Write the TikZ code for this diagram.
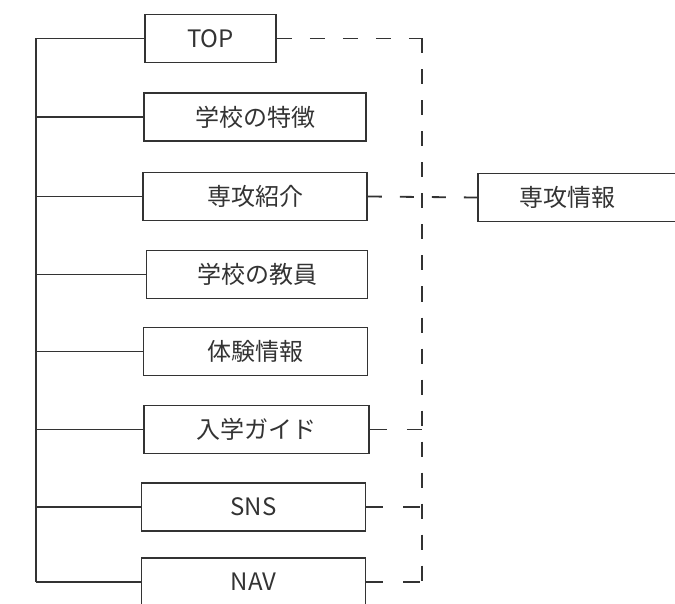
\documentclass[tikz,border=0pt]{standalone}
\usepackage{fontspec}
\newfontfamily\jpfont{Noto Sans CJK JP}
\usepackage{tikz}
\usetikzlibrary{positioning}
\definecolor{line-gray}{RGB}{51,51,51}
\tikzset{
    pagebox/.style={draw=line-gray, line width=1.8pt, text=line-gray,
        minimum width=224pt, minimum height=48pt, inner sep=0pt,
        font=\jpfont\fontsize{24}{28}\selectfont},
    tree/.style={line-gray, line width=1.8pt},
    link/.style={line-gray, line width=1.8pt, dash pattern=#1},
    link/.default={on 15pt off 16pt}
}

\begin{document}
\begin{tikzpicture}[x=1pt,y=-1pt]
    \useasboundingbox (0,0) rectangle (675,604);

    % site pages
    \node[pagebox, minimum width=131pt] (top) at (210.5,38.5) {TOP};
    \node[pagebox, minimum width=222pt] (feature) at (255,117) {学校の特徴};
    \node[pagebox] (major) at (255,196.5) {専攻紹介};
    \node[pagebox, minimum width=221pt] (staff) at (257,274.5) {学校の教員};
    \node[pagebox] (trial) at (255.5,351.5) {体験情報};
    \node[pagebox, minimum width=225pt] (guide) at (256.5,429.5) {入学ガイド};
    \node[pagebox] (sns) at (253.5,507) {SNS};
    \node[pagebox] (nav) at (253.5,582) {NAV};

    % sub page
    \node[pagebox, minimum width=230pt, anchor=west] (majorinfo) at (477,197.5) {\hspace*{-50pt}専攻情報};

    \coordinate (trunk) at (36,0);
    \coordinate (dashline) at (422,0);

    % solid tree on the left
    \draw[tree] (top.west -| trunk) -- (nav.west -| trunk);
    \foreach \page in {top,feature,major,staff,trial,guide,sns,nav}
        \draw[tree] (\page.west -| trunk) -- (\page.west);

    % dashed links on the right
    \draw[link={on 15pt off 18pt}] (top.east) -- (top.east -| dashline);
    \draw[link] (top.east -| dashline) -- (nav.east -| dashline);
    \draw[link={on 14pt off 18pt}] (major.east) -- (majorinfo.west);
    \foreach \page in {guide,sns,nav}
        \draw[link={on 17pt off 20pt}] (\page.east) -- (\page.east -| dashline);
\end{tikzpicture}
\end{document}
